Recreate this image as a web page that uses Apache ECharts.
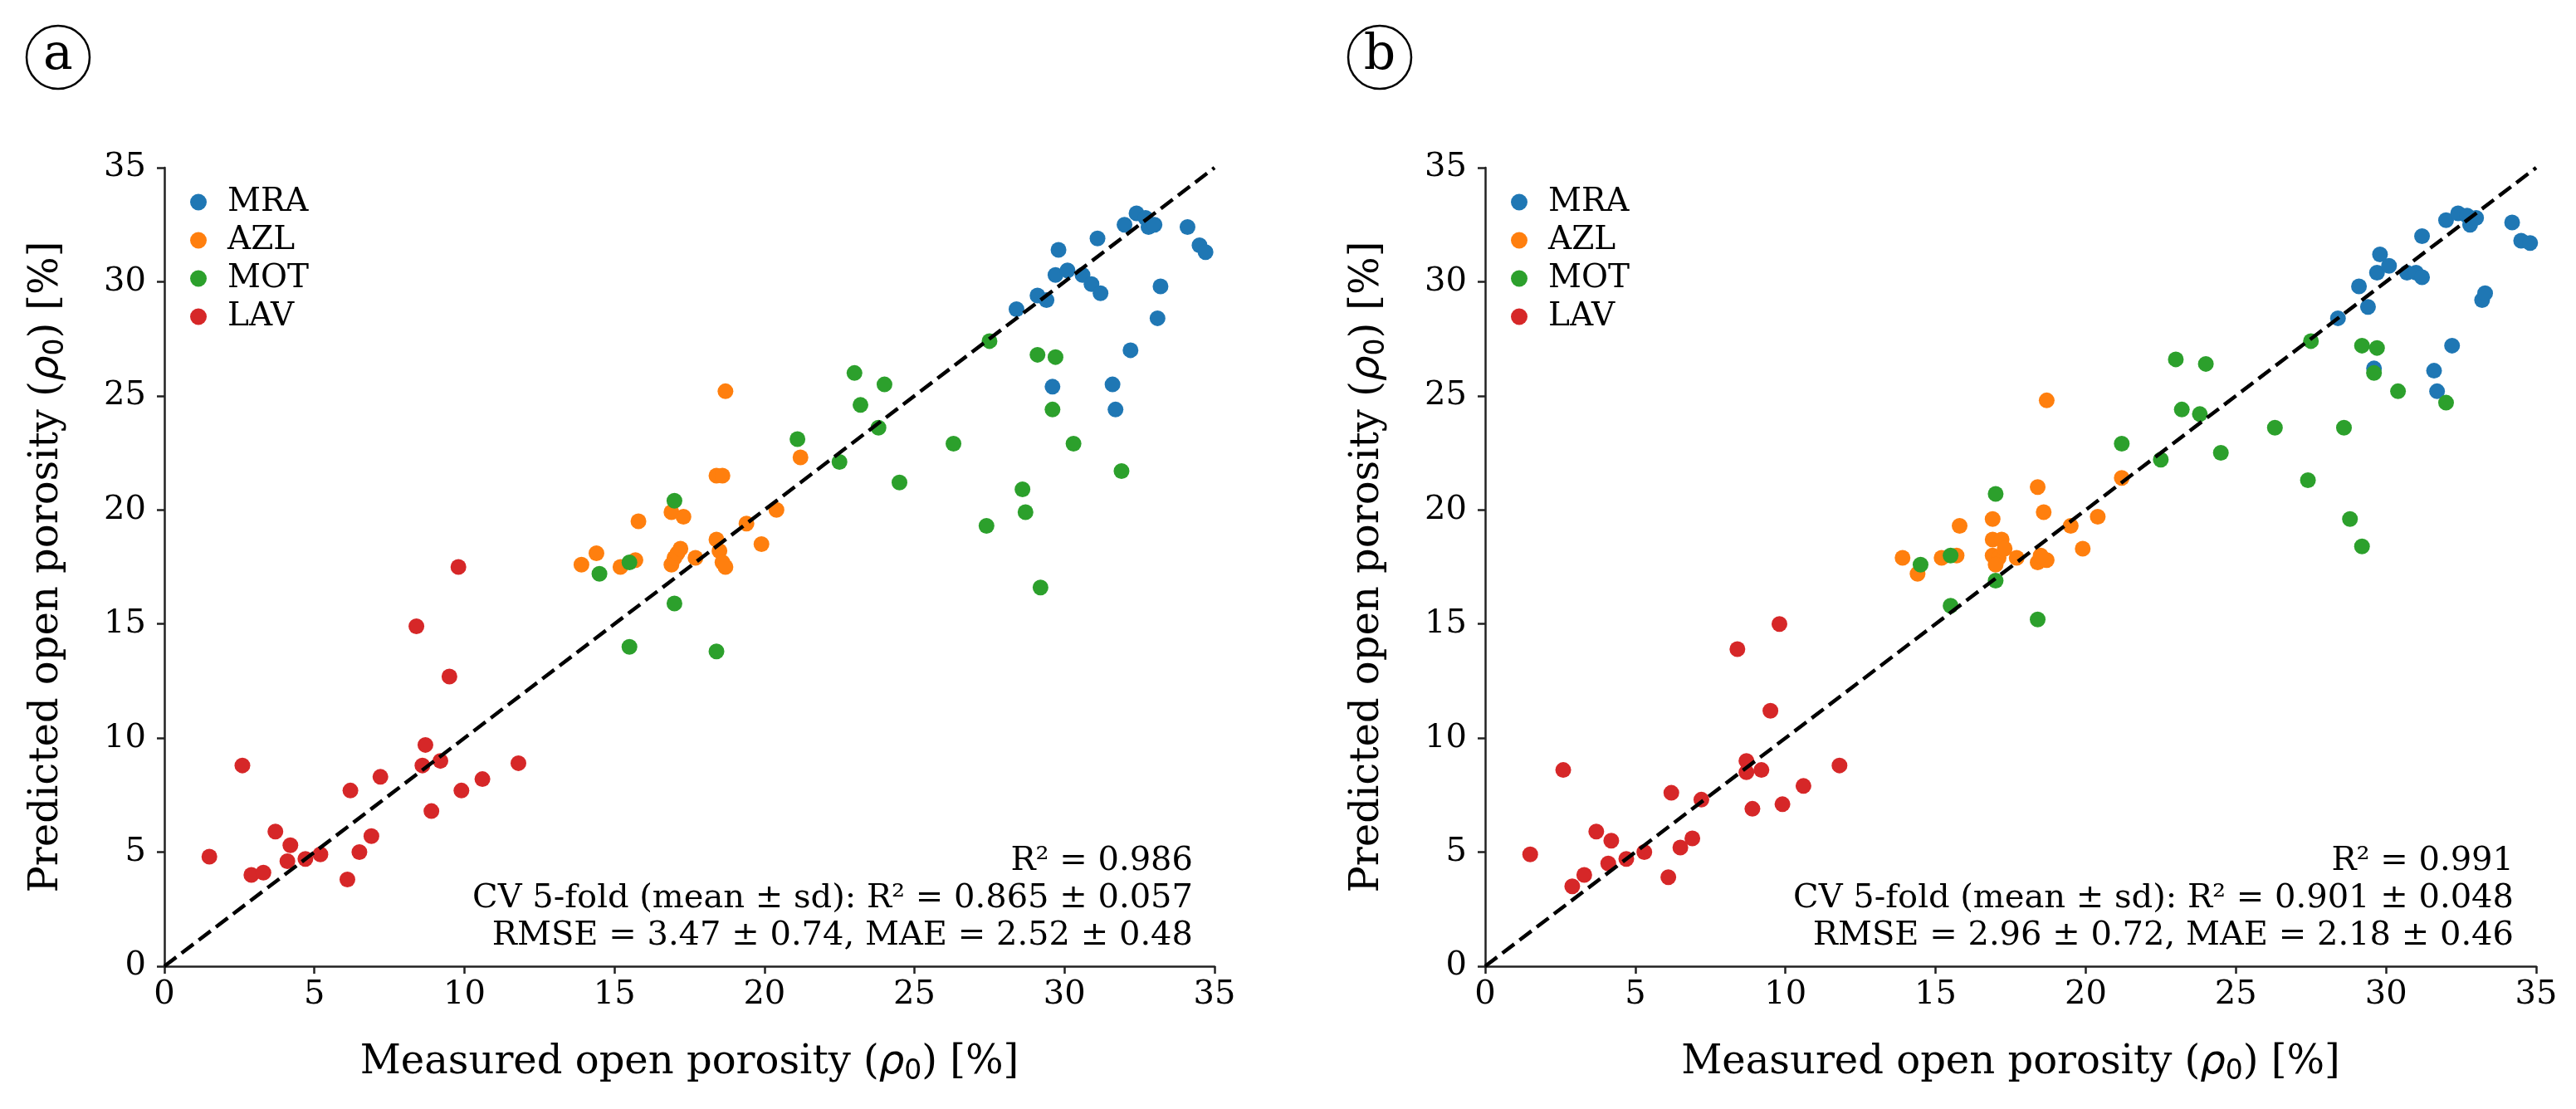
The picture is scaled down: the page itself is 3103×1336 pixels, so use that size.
<!DOCTYPE html>
<html>
<head>
<meta charset="utf-8">
<title>Predicted vs measured open porosity</title>
<script src="https://cdn.jsdelivr.net/npm/echarts@6/dist/echarts.min.js"></script>
<style>
	html, body { margin: 0; padding: 0; background: #fff; }
	#main { width: 3103px; height: 1336px; }
</style>
</head>
<body>
<div id="main"></div>
<script>
// group names and colours
var groups = ['MRA', 'AZL', 'MOT', 'LAV'];
var colors = ['#1f77b4', '#ff7f0e', '#2ca02c', '#d62728'];
var ticks = [0, 5, 10, 15, 20, 25, 30, 35];
var identityLine = [[0, 0], [35, 35]];

// panel a: [measured, predicted]
var mraA = [[28.4,28.8],[29.1,29.4],[29.4,29.2],[29.6,25.4],[29.7,30.3],[29.8,31.4],[30.1,30.5],[30.6,30.3],[30.9,29.9],[31.1,31.9],[31.2,29.5],[31.6,25.5],[31.7,24.4],[32.0,32.5],[32.2,27.0],[32.4,33.0],[32.7,32.8],[32.8,32.4],[33.0,32.5],[33.1,28.4],[33.2,29.8],[34.1,32.4],[34.5,31.6],[34.7,31.3]];
var azlA = [[13.9,17.6],[14.4,18.1],[15.2,17.5],[15.7,17.8],[15.8,19.5],[16.9,19.9],[17.3,19.7],[16.9,17.6],[17.0,17.9],[17.1,18.1],[17.2,18.3],[17.7,17.9],[18.4,18.7],[18.5,18.2],[18.6,17.7],[18.7,17.5],[18.4,21.5],[18.6,21.5],[18.7,25.2],[19.4,19.4],[19.9,18.5],[20.4,20.0],[21.2,22.3]];
var motA = [[14.5,17.2],[15.5,17.7],[15.5,14.0],[17.0,15.9],[17.0,20.4],[18.4,13.8],[21.1,23.1],[22.5,22.1],[23.0,26.0],[23.2,24.6],[23.8,23.6],[24.0,25.5],[24.5,21.2],[26.3,22.9],[27.4,19.3],[27.5,27.4],[28.6,20.9],[28.7,19.9],[29.1,26.8],[29.2,16.6],[29.6,24.4],[29.7,26.7],[30.3,22.9],[31.9,21.7]];
var lavA = [[1.5,4.8],[2.6,8.8],[2.9,4.0],[3.3,4.1],[3.7,5.9],[4.2,5.3],[4.1,4.6],[4.7,4.7],[5.2,4.9],[6.1,3.8],[6.2,7.7],[6.5,5.0],[6.9,5.7],[7.2,8.3],[8.4,14.9],[8.7,9.7],[8.6,8.8],[9.2,9.0],[8.9,6.8],[9.5,12.7],[9.8,17.5],[9.9,7.7],[10.6,8.2],[11.8,8.9]];

// panel b
var mraB = [[28.4,28.4],[29.1,29.8],[29.4,28.9],[29.6,26.2],[29.7,30.4],[29.8,31.2],[30.1,30.7],[30.7,30.4],[31.0,30.4],[31.2,30.2],[31.2,32.0],[31.6,26.1],[31.7,25.2],[32.0,32.7],[32.2,27.2],[32.4,33.0],[32.7,32.9],[32.8,32.5],[33.0,32.8],[33.2,29.2],[33.3,29.5],[34.2,32.6],[34.5,31.8],[34.8,31.7]];
var azlB = [[13.9,17.9],[14.4,17.2],[15.2,17.9],[15.7,18.0],[15.8,19.3],[16.9,19.6],[16.9,18.7],[17.2,18.7],[16.9,18.0],[17.1,17.9],[17.0,17.6],[17.7,17.9],[18.4,17.7],[18.7,17.8],[18.4,21.0],[18.6,19.9],[18.7,24.8],[19.5,19.3],[19.9,18.3],[20.4,19.7],[21.2,21.4],[17.3,18.3],[18.5,18.0]];
var motB = [[14.5,17.6],[15.5,18.0],[15.5,15.8],[17.0,16.9],[17.0,20.7],[18.4,15.2],[21.2,22.9],[22.5,22.2],[23.0,26.6],[23.2,24.4],[23.8,24.2],[24.0,26.4],[24.5,22.5],[26.3,23.6],[27.4,21.3],[27.5,27.4],[28.6,23.6],[28.8,19.6],[29.2,27.2],[29.2,18.4],[29.6,26.0],[29.7,27.1],[30.4,25.2],[32.0,24.7]];
var lavB = [[1.5,4.9],[2.6,8.6],[2.9,3.5],[3.3,4.0],[3.7,5.9],[4.2,5.5],[4.1,4.5],[4.7,4.7],[5.3,5.0],[6.1,3.9],[6.2,7.6],[6.5,5.2],[6.9,5.6],[7.2,7.3],[8.4,13.9],[8.7,9.0],[8.7,8.5],[9.2,8.6],[8.9,6.9],[9.5,11.2],[9.8,15.0],[9.9,7.1],[10.6,7.9],[11.8,8.8]];

var statsA = ['R² = 0.986', 'CV 5-fold (mean ± sd): R² = 0.865 ± 0.057', 'RMSE = 3.47 ± 0.74, MAE = 2.52 ± 0.48'];
var statsB = ['R² = 0.991', 'CV 5-fold (mean ± sd): R² = 0.901 ± 0.048', 'RMSE = 2.96 ± 0.72, MAE = 2.18 ± 0.46'];

var FONT = 'DejaVu Serif';
var AXIS_COLOR = '#222';

function axisName(label) {
	return label + ' ({r|ρ}{s|0}) [%]';
}

var nameRich = {
	r: { fontFamily: 'DejaVu Sans', fontStyle: 'italic', fontSize: 48, lineHeight: 54, color: '#000' },
	s: { fontFamily: 'DejaVu Sans', fontSize: 33, lineHeight: 24, verticalAlign: 'bottom', color: '#000' }
};

function makeAxis(kind, gridIndex) {
	var isX = kind === 'x';
	return {
		type: 'value',
		gridIndex: gridIndex,
		min: ticks[0],
		max: ticks[ticks.length - 1],
		interval: 5,
		name: axisName(isX ? 'Measured open porosity' : 'Predicted open porosity'),
		nameLocation: 'middle',
		nameGap: isX ? 90 : 114,
		nameRotate: isX ? 0 : 90,
		nameTextStyle: { fontFamily: FONT, fontSize: 48, lineHeight: 54, color: '#000', rich: nameRich },
		axisLine: { show: true, onZero: false, lineStyle: { color: AXIS_COLOR, width: 2.5 } },
		axisTick: { show: true, inside: false, length: 9, lineStyle: { color: AXIS_COLOR, width: 2.5 } },
		axisLabel: { fontFamily: FONT, fontSize: 40, color: '#000', margin: isX ? 15 : 22 },
		splitLine: { show: false }
	};
}

function scatterSeries(name, data, idx, gridIndex) {
	return {
		name: name,
		type: 'scatter',
		xAxisIndex: gridIndex,
		yAxisIndex: gridIndex,
		data: data,
		symbol: 'circle',
		symbolSize: 19,
		itemStyle: { color: colors[idx], opacity: 1 },
		z: 2 + idx
	};
}

function lineSeries(gridIndex) {
	return {
		name: 'y = x',
		type: 'line',
		xAxisIndex: gridIndex,
		yAxisIndex: gridIndex,
		data: identityLine,
		symbol: 'none',
		silent: true,
		lineStyle: { color: '#000', width: 4.5, type: [18, 8] },
		z: 10
	};
}

function makeLegend(left) {
	return {
		orient: 'vertical',
		left: left,
		top: 219,
		data: groups.map(function(g) { return { name: g, icon: 'circle' }; }),
		itemWidth: 60,
		itemHeight: 20,
		itemGap: 7,
		textStyle: { fontFamily: FONT, fontSize: 39, lineHeight: 39, color: '#000' },
		selectedMode: false
	};
}

function panelGraphics(cx, label, statsRight, stats) {
	return [
		{
			type: 'circle',
			shape: { cx: cx, cy: 69, r: 38 },
			style: { fill: 'none', stroke: '#000', lineWidth: 2.5 }
		},
		{
			type: 'text',
			x: cx,
			y: 67,
			style: { text: label, font: '60px "' + FONT + '"', fill: '#000', align: 'center', verticalAlign: 'middle' }
		},
		{
			type: 'text',
			x: statsRight,
			y: 1150,
			style: {
				text: stats.join('\n'),
				font: '40px "' + FONT + '"',
				lineHeight: 45,
				fill: '#000',
				align: 'right',
				verticalAlign: 'bottom'
			}
		}
	];
}

function display() {
	var myChart = echarts.init(document.getElementById('main'), null, { renderer: 'canvas' });

	var option = {
		animation: false,
		textStyle: { fontFamily: FONT },
		grid: [
			{ left: 198, top: 202, width: 1265, height: 962 },
			{ left: 1789, top: 202, width: 1266, height: 962 }
		],
		xAxis: [makeAxis('x', 0), makeAxis('x', 1)],
		yAxis: [makeAxis('y', 0), makeAxis('y', 1)],
		legend: [makeLegend(224), makeLegend(1815)],
		series: [
			scatterSeries('MRA', mraA, 0, 0),
			scatterSeries('AZL', azlA, 1, 0),
			scatterSeries('MOT', motA, 2, 0),
			scatterSeries('LAV', lavA, 3, 0),
			lineSeries(0),
			scatterSeries('MRA', mraB, 0, 1),
			scatterSeries('AZL', azlB, 1, 1),
			scatterSeries('MOT', motB, 2, 1),
			scatterSeries('LAV', lavB, 3, 1),
			lineSeries(1)
		],
		graphic: panelGraphics(70, 'a', 1437, statsA).concat(panelGraphics(1662, 'b', 3028, statsB))
	};

	myChart.setOption(option);
}

display();
</script>
</body>
</html>
